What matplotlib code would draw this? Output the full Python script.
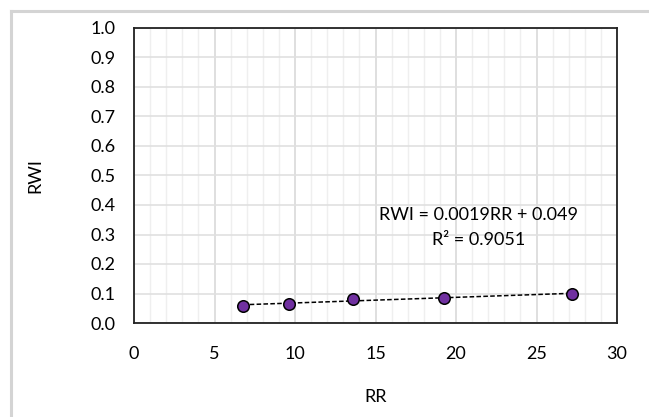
import matplotlib
matplotlib.use("Agg")
import matplotlib.pyplot as plt
from matplotlib.lines import Line2D
import numpy as np

rr = [6.76, 9.6, 13.58, 19.26, 27.2]
rwi = [0.058, 0.064, 0.080, 0.086, 0.097]
slope = 0.0019
intercept = 0.049
eq_text = "RWI = 0.0019RR + 0.049"
r2_text = "R² = 0.9051"
x_ticks = [0, 5, 10, 15, 20, 25, 30]
y_ticks = [round(0.1 * i, 1) for i in range(11)]

plt.rcParams['font.family'] = ['Lato', 'DejaVu Sans']
W, H = 649, 417
fig = plt.figure(figsize=(W / 100, H / 100), dpi=100)

# outer chart-area border (top and left visible)
fig.add_artist(Line2D([11 / W, 11 / W], [0, 1 - 10.5 / H], transform=fig.transFigure,
                      color='#d4d4d4', linewidth=2.2))
fig.add_artist(Line2D([11 / W, 1], [1 - 10.5 / H, 1 - 10.5 / H], transform=fig.transFigure,
                      color='#d4d4d4', linewidth=2.2))

L, R, T, B = 134, 617, 28, 323
ax = fig.add_axes([L / W, 1 - B / H, (R - L) / W, (B - T) / H])

ax.set_xlim(0, 30)
ax.set_ylim(0, 1.0)
ax.set_xticks(x_ticks)
ax.set_yticks(y_ticks)
ax.set_xticklabels([str(t) for t in x_ticks])
ax.set_yticklabels([f"{t:.1f}" for t in y_ticks])
ax.set_xticks(np.arange(0, 31, 1), minor=True)
ax.grid(True, which='major', axis='x', color='#d9d9d9', linewidth=1.2)
ax.grid(True, which='minor', axis='x', color='#efefef', linewidth=1.0)
ax.grid(True, which='major', axis='y', color='#e0e0e0', linewidth=1.2)
ax.set_axisbelow(True)
ax.tick_params(which='both', length=0, labelsize=13, colors='black')
ax.tick_params(axis='y', pad=13.5)
ax.tick_params(axis='x', pad=16.5)
for s in ax.spines.values():
    s.set_color('#222222')
    s.set_linewidth(1.3)

xs = np.array([min(rr), max(rr)])
ax.plot(xs, slope * xs + intercept, linestyle=(0, (3, 1.5)), color='black', linewidth=1.1, zorder=2)
ax.plot(rr, rwi, linestyle='none', marker='o', markersize=8.3,
        markerfacecolor='#7030A0', markeredgecolor='black', markeredgewidth=1.1, zorder=3,
        clip_on=False)

ax.text(21.4, 0.366, eq_text, fontsize=13, ha='center', va='center')
ax.text(21.4, 0.283, r2_text, fontsize=13, ha='center', va='center')

fig.text((L + R) / 2 / W, 1 - 397 / H, "RR", fontsize=13, ha='center', va='center')
fig.text(35 / W, 1 - (T + B) / 2 / H, "RWI", fontsize=13, ha='center', va='center', rotation=90)

fig.savefig("out.png", dpi=100)
